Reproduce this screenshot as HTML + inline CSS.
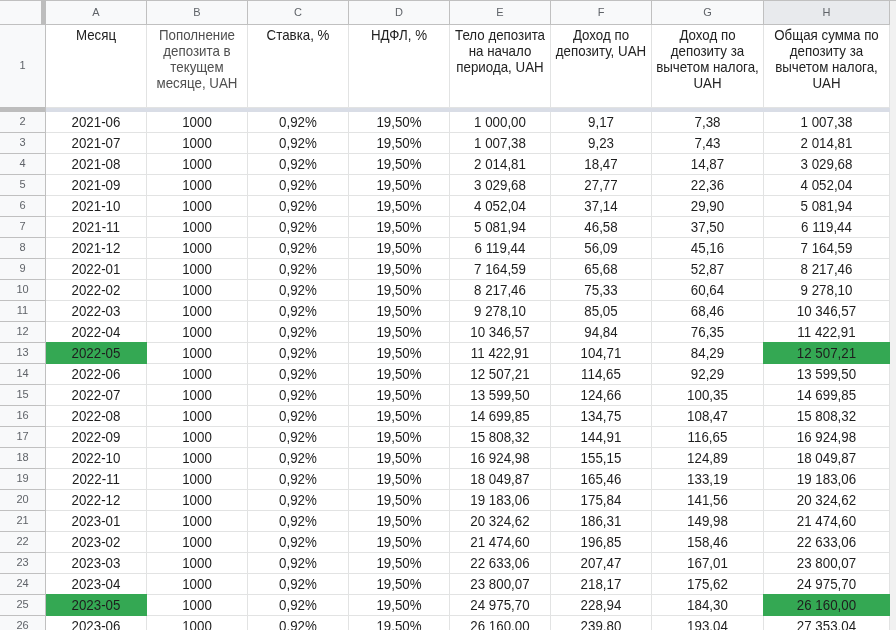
<!DOCTYPE html>
<html lang="ru"><head><meta charset="utf-8"><title>Депозит</title>
<style>
html,body{margin:0;padding:0;background:#fff;}
.t{will-change:transform;}
body{width:896px;height:630px;overflow:hidden;position:relative;font-family:"Liberation Sans",Arial,sans-serif;}
.r{position:absolute;}
.cl{position:absolute;top:1px;height:23px;line-height:23px;text-align:center;font-size:11px;color:#5f6368;}
.rn{position:absolute;left:0;width:45px;text-align:center;font-size:11px;color:#5f6368;}
.tx{position:absolute;height:16px;line-height:16px;text-align:center;font-size:13.333px;color:#1e1e1e;white-space:nowrap;transform:scaleY(1.05);transform-origin:50% 12px;}
</style></head><body>
<div class="r" style="left:0px;top:0px;width:896px;height:25px;background:#f8f9fa;"></div>
<div class="r" style="left:0px;top:25px;width:45px;height:605px;background:#f8f9fa;"></div>
<div class="r" style="left:764px;top:1px;width:125px;height:23px;background:#e8eaed;"></div>
<div class="r" style="left:890px;top:0px;width:6px;height:630px;background:#f1f1f1;"></div>
<div class="r" style="left:146px;top:25px;width:1px;height:605px;background:#e2e3e3;"></div>
<div class="r" style="left:247px;top:25px;width:1px;height:605px;background:#e2e3e3;"></div>
<div class="r" style="left:348px;top:25px;width:1px;height:605px;background:#e2e3e3;"></div>
<div class="r" style="left:449px;top:25px;width:1px;height:605px;background:#e2e3e3;"></div>
<div class="r" style="left:550px;top:25px;width:1px;height:605px;background:#e2e3e3;"></div>
<div class="r" style="left:651px;top:25px;width:1px;height:605px;background:#e2e3e3;"></div>
<div class="r" style="left:763px;top:25px;width:1px;height:605px;background:#e2e3e3;"></div>
<div class="r" style="left:889px;top:25px;width:1px;height:605px;background:#e2e3e3;"></div>
<div class="r" style="left:46px;top:107px;width:844px;height:1px;background:#e2e3e3;"></div>
<div class="r" style="left:46px;top:132px;width:844px;height:1px;background:#e2e3e3;"></div>
<div class="r" style="left:46px;top:153px;width:844px;height:1px;background:#e2e3e3;"></div>
<div class="r" style="left:46px;top:174px;width:844px;height:1px;background:#e2e3e3;"></div>
<div class="r" style="left:46px;top:195px;width:844px;height:1px;background:#e2e3e3;"></div>
<div class="r" style="left:46px;top:216px;width:844px;height:1px;background:#e2e3e3;"></div>
<div class="r" style="left:46px;top:237px;width:844px;height:1px;background:#e2e3e3;"></div>
<div class="r" style="left:46px;top:258px;width:844px;height:1px;background:#e2e3e3;"></div>
<div class="r" style="left:46px;top:279px;width:844px;height:1px;background:#e2e3e3;"></div>
<div class="r" style="left:46px;top:300px;width:844px;height:1px;background:#e2e3e3;"></div>
<div class="r" style="left:46px;top:321px;width:844px;height:1px;background:#e2e3e3;"></div>
<div class="r" style="left:46px;top:342px;width:844px;height:1px;background:#e2e3e3;"></div>
<div class="r" style="left:46px;top:363px;width:844px;height:1px;background:#e2e3e3;"></div>
<div class="r" style="left:46px;top:384px;width:844px;height:1px;background:#e2e3e3;"></div>
<div class="r" style="left:46px;top:405px;width:844px;height:1px;background:#e2e3e3;"></div>
<div class="r" style="left:46px;top:426px;width:844px;height:1px;background:#e2e3e3;"></div>
<div class="r" style="left:46px;top:447px;width:844px;height:1px;background:#e2e3e3;"></div>
<div class="r" style="left:46px;top:468px;width:844px;height:1px;background:#e2e3e3;"></div>
<div class="r" style="left:46px;top:489px;width:844px;height:1px;background:#e2e3e3;"></div>
<div class="r" style="left:46px;top:510px;width:844px;height:1px;background:#e2e3e3;"></div>
<div class="r" style="left:46px;top:531px;width:844px;height:1px;background:#e2e3e3;"></div>
<div class="r" style="left:46px;top:552px;width:844px;height:1px;background:#e2e3e3;"></div>
<div class="r" style="left:46px;top:573px;width:844px;height:1px;background:#e2e3e3;"></div>
<div class="r" style="left:46px;top:594px;width:844px;height:1px;background:#e2e3e3;"></div>
<div class="r" style="left:46px;top:615px;width:844px;height:1px;background:#e2e3e3;"></div>
<div class="r" style="left:46px;top:108px;width:844px;height:4px;background:#d9dde6;"></div>
<div class="r" style="left:0px;top:107px;width:45px;height:5px;background:#bdbdbd;"></div>
<div class="r" style="left:46px;top:342px;width:101px;height:22px;background:#34a853;"></div>
<div class="r" style="left:763px;top:342px;width:127px;height:22px;background:#34a853;"></div>
<div class="r" style="left:46px;top:594px;width:101px;height:22px;background:#34a853;"></div>
<div class="r" style="left:763px;top:594px;width:127px;height:22px;background:#34a853;"></div>
<div class="r" style="left:0px;top:0px;width:896px;height:1px;background:#c0c0c0;"></div>
<div class="r" style="left:0px;top:24px;width:890px;height:1px;background:#c0c0c0;"></div>
<div class="r" style="left:146px;top:0px;width:1px;height:25px;background:#c0c0c0;"></div>
<div class="r" style="left:247px;top:0px;width:1px;height:25px;background:#c0c0c0;"></div>
<div class="r" style="left:348px;top:0px;width:1px;height:25px;background:#c0c0c0;"></div>
<div class="r" style="left:449px;top:0px;width:1px;height:25px;background:#c0c0c0;"></div>
<div class="r" style="left:550px;top:0px;width:1px;height:25px;background:#c0c0c0;"></div>
<div class="r" style="left:651px;top:0px;width:1px;height:25px;background:#c0c0c0;"></div>
<div class="r" style="left:763px;top:0px;width:1px;height:25px;background:#c0c0c0;"></div>
<div class="r" style="left:889px;top:0px;width:1px;height:25px;background:#c0c0c0;"></div>
<div class="r" style="left:41px;top:0px;width:5px;height:25px;background:#bdbdbd;"></div>
<div class="r" style="left:45px;top:25px;width:1px;height:605px;background:#c0c0c0;"></div>
<div class="r" style="left:0px;top:132px;width:45px;height:1px;background:#c0c0c0;"></div>
<div class="r" style="left:0px;top:153px;width:45px;height:1px;background:#c0c0c0;"></div>
<div class="r" style="left:0px;top:174px;width:45px;height:1px;background:#c0c0c0;"></div>
<div class="r" style="left:0px;top:195px;width:45px;height:1px;background:#c0c0c0;"></div>
<div class="r" style="left:0px;top:216px;width:45px;height:1px;background:#c0c0c0;"></div>
<div class="r" style="left:0px;top:237px;width:45px;height:1px;background:#c0c0c0;"></div>
<div class="r" style="left:0px;top:258px;width:45px;height:1px;background:#c0c0c0;"></div>
<div class="r" style="left:0px;top:279px;width:45px;height:1px;background:#c0c0c0;"></div>
<div class="r" style="left:0px;top:300px;width:45px;height:1px;background:#c0c0c0;"></div>
<div class="r" style="left:0px;top:321px;width:45px;height:1px;background:#c0c0c0;"></div>
<div class="r" style="left:0px;top:342px;width:45px;height:1px;background:#c0c0c0;"></div>
<div class="r" style="left:0px;top:363px;width:45px;height:1px;background:#c0c0c0;"></div>
<div class="r" style="left:0px;top:384px;width:45px;height:1px;background:#c0c0c0;"></div>
<div class="r" style="left:0px;top:405px;width:45px;height:1px;background:#c0c0c0;"></div>
<div class="r" style="left:0px;top:426px;width:45px;height:1px;background:#c0c0c0;"></div>
<div class="r" style="left:0px;top:447px;width:45px;height:1px;background:#c0c0c0;"></div>
<div class="r" style="left:0px;top:468px;width:45px;height:1px;background:#c0c0c0;"></div>
<div class="r" style="left:0px;top:489px;width:45px;height:1px;background:#c0c0c0;"></div>
<div class="r" style="left:0px;top:510px;width:45px;height:1px;background:#c0c0c0;"></div>
<div class="r" style="left:0px;top:531px;width:45px;height:1px;background:#c0c0c0;"></div>
<div class="r" style="left:0px;top:552px;width:45px;height:1px;background:#c0c0c0;"></div>
<div class="r" style="left:0px;top:573px;width:45px;height:1px;background:#c0c0c0;"></div>
<div class="r" style="left:0px;top:594px;width:45px;height:1px;background:#c0c0c0;"></div>
<div class="r" style="left:0px;top:615px;width:45px;height:1px;background:#c0c0c0;"></div>
<div class="t" style="position:absolute;left:0;top:0;width:896px;height:630px;">
<div class="cl" style="left:46px;width:100px;">A</div>
<div class="cl" style="left:147px;width:100px;">B</div>
<div class="cl" style="left:248px;width:100px;">C</div>
<div class="cl" style="left:349px;width:100px;">D</div>
<div class="cl" style="left:450px;width:100px;">E</div>
<div class="cl" style="left:551px;width:100px;">F</div>
<div class="cl" style="left:652px;width:111px;">G</div>
<div class="cl" style="left:764px;width:125px;">H</div>
<div class="rn" style="top:24px;height:82px;line-height:82px;">1</div>
<div class="rn" style="top:111px;height:20px;line-height:20px;">2</div>
<div class="rn" style="top:132px;height:20px;line-height:20px;">3</div>
<div class="rn" style="top:153px;height:20px;line-height:20px;">4</div>
<div class="rn" style="top:174px;height:20px;line-height:20px;">5</div>
<div class="rn" style="top:195px;height:20px;line-height:20px;">6</div>
<div class="rn" style="top:216px;height:20px;line-height:20px;">7</div>
<div class="rn" style="top:237px;height:20px;line-height:20px;">8</div>
<div class="rn" style="top:258px;height:20px;line-height:20px;">9</div>
<div class="rn" style="top:279px;height:20px;line-height:20px;">10</div>
<div class="rn" style="top:300px;height:20px;line-height:20px;">11</div>
<div class="rn" style="top:321px;height:20px;line-height:20px;">12</div>
<div class="rn" style="top:342px;height:20px;line-height:20px;">13</div>
<div class="rn" style="top:363px;height:20px;line-height:20px;">14</div>
<div class="rn" style="top:384px;height:20px;line-height:20px;">15</div>
<div class="rn" style="top:405px;height:20px;line-height:20px;">16</div>
<div class="rn" style="top:426px;height:20px;line-height:20px;">17</div>
<div class="rn" style="top:447px;height:20px;line-height:20px;">18</div>
<div class="rn" style="top:468px;height:20px;line-height:20px;">19</div>
<div class="rn" style="top:489px;height:20px;line-height:20px;">20</div>
<div class="rn" style="top:510px;height:20px;line-height:20px;">21</div>
<div class="rn" style="top:531px;height:20px;line-height:20px;">22</div>
<div class="rn" style="top:552px;height:20px;line-height:20px;">23</div>
<div class="rn" style="top:573px;height:20px;line-height:20px;">24</div>
<div class="rn" style="top:594px;height:20px;line-height:20px;">25</div>
<div class="rn" style="top:615px;height:20px;line-height:20px;">26</div>
<div class="tx" style="left:46px;top:28px;width:100px;color:#222;">Месяц</div>
<div class="tx" style="left:147px;top:28px;width:100px;color:#4f4f4f;">Пополнение</div>
<div class="tx" style="left:147px;top:44px;width:100px;color:#4f4f4f;">депозита в</div>
<div class="tx" style="left:147px;top:60px;width:100px;color:#4f4f4f;">текущем</div>
<div class="tx" style="left:147px;top:76px;width:100px;color:#4f4f4f;">месяце, UAH</div>
<div class="tx" style="left:248px;top:28px;width:100px;color:#222;">Ставка, %</div>
<div class="tx" style="left:349px;top:28px;width:100px;color:#222;">НДФЛ, %</div>
<div class="tx" style="left:450px;top:28px;width:100px;color:#222;">Тело депозита</div>
<div class="tx" style="left:450px;top:44px;width:100px;color:#222;">на начало</div>
<div class="tx" style="left:450px;top:60px;width:100px;color:#222;">периода, UAH</div>
<div class="tx" style="left:551px;top:28px;width:100px;color:#222;">Доход по</div>
<div class="tx" style="left:551px;top:44px;width:100px;color:#222;">депозиту, UAH</div>
<div class="tx" style="left:652px;top:28px;width:111px;color:#222;">Доход по</div>
<div class="tx" style="left:652px;top:44px;width:111px;color:#222;">депозиту за</div>
<div class="tx" style="left:652px;top:60px;width:111px;color:#222;">вычетом налога,</div>
<div class="tx" style="left:652px;top:76px;width:111px;color:#222;">UAH</div>
<div class="tx" style="left:764px;top:28px;width:125px;color:#222;">Общая сумма по</div>
<div class="tx" style="left:764px;top:44px;width:125px;color:#222;">депозиту за</div>
<div class="tx" style="left:764px;top:60px;width:125px;color:#222;">вычетом налога,</div>
<div class="tx" style="left:764px;top:76px;width:125px;color:#222;">UAH</div>
<div class="tx" style="left:46px;top:115px;width:100px;">2021-06</div>
<div class="tx" style="left:147px;top:115px;width:100px;">1000</div>
<div class="tx" style="left:248px;top:115px;width:100px;">0,92%</div>
<div class="tx" style="left:349px;top:115px;width:100px;">19,50%</div>
<div class="tx" style="left:450px;top:115px;width:100px;">1 000,00</div>
<div class="tx" style="left:551px;top:115px;width:100px;">9,17</div>
<div class="tx" style="left:652px;top:115px;width:111px;">7,38</div>
<div class="tx" style="left:764px;top:115px;width:125px;">1 007,38</div>
<div class="tx" style="left:46px;top:136px;width:100px;">2021-07</div>
<div class="tx" style="left:147px;top:136px;width:100px;">1000</div>
<div class="tx" style="left:248px;top:136px;width:100px;">0,92%</div>
<div class="tx" style="left:349px;top:136px;width:100px;">19,50%</div>
<div class="tx" style="left:450px;top:136px;width:100px;">1 007,38</div>
<div class="tx" style="left:551px;top:136px;width:100px;">9,23</div>
<div class="tx" style="left:652px;top:136px;width:111px;">7,43</div>
<div class="tx" style="left:764px;top:136px;width:125px;">2 014,81</div>
<div class="tx" style="left:46px;top:157px;width:100px;">2021-08</div>
<div class="tx" style="left:147px;top:157px;width:100px;">1000</div>
<div class="tx" style="left:248px;top:157px;width:100px;">0,92%</div>
<div class="tx" style="left:349px;top:157px;width:100px;">19,50%</div>
<div class="tx" style="left:450px;top:157px;width:100px;">2 014,81</div>
<div class="tx" style="left:551px;top:157px;width:100px;">18,47</div>
<div class="tx" style="left:652px;top:157px;width:111px;">14,87</div>
<div class="tx" style="left:764px;top:157px;width:125px;">3 029,68</div>
<div class="tx" style="left:46px;top:178px;width:100px;">2021-09</div>
<div class="tx" style="left:147px;top:178px;width:100px;">1000</div>
<div class="tx" style="left:248px;top:178px;width:100px;">0,92%</div>
<div class="tx" style="left:349px;top:178px;width:100px;">19,50%</div>
<div class="tx" style="left:450px;top:178px;width:100px;">3 029,68</div>
<div class="tx" style="left:551px;top:178px;width:100px;">27,77</div>
<div class="tx" style="left:652px;top:178px;width:111px;">22,36</div>
<div class="tx" style="left:764px;top:178px;width:125px;">4 052,04</div>
<div class="tx" style="left:46px;top:199px;width:100px;">2021-10</div>
<div class="tx" style="left:147px;top:199px;width:100px;">1000</div>
<div class="tx" style="left:248px;top:199px;width:100px;">0,92%</div>
<div class="tx" style="left:349px;top:199px;width:100px;">19,50%</div>
<div class="tx" style="left:450px;top:199px;width:100px;">4 052,04</div>
<div class="tx" style="left:551px;top:199px;width:100px;">37,14</div>
<div class="tx" style="left:652px;top:199px;width:111px;">29,90</div>
<div class="tx" style="left:764px;top:199px;width:125px;">5 081,94</div>
<div class="tx" style="left:46px;top:220px;width:100px;">2021-11</div>
<div class="tx" style="left:147px;top:220px;width:100px;">1000</div>
<div class="tx" style="left:248px;top:220px;width:100px;">0,92%</div>
<div class="tx" style="left:349px;top:220px;width:100px;">19,50%</div>
<div class="tx" style="left:450px;top:220px;width:100px;">5 081,94</div>
<div class="tx" style="left:551px;top:220px;width:100px;">46,58</div>
<div class="tx" style="left:652px;top:220px;width:111px;">37,50</div>
<div class="tx" style="left:764px;top:220px;width:125px;">6 119,44</div>
<div class="tx" style="left:46px;top:241px;width:100px;">2021-12</div>
<div class="tx" style="left:147px;top:241px;width:100px;">1000</div>
<div class="tx" style="left:248px;top:241px;width:100px;">0,92%</div>
<div class="tx" style="left:349px;top:241px;width:100px;">19,50%</div>
<div class="tx" style="left:450px;top:241px;width:100px;">6 119,44</div>
<div class="tx" style="left:551px;top:241px;width:100px;">56,09</div>
<div class="tx" style="left:652px;top:241px;width:111px;">45,16</div>
<div class="tx" style="left:764px;top:241px;width:125px;">7 164,59</div>
<div class="tx" style="left:46px;top:262px;width:100px;">2022-01</div>
<div class="tx" style="left:147px;top:262px;width:100px;">1000</div>
<div class="tx" style="left:248px;top:262px;width:100px;">0,92%</div>
<div class="tx" style="left:349px;top:262px;width:100px;">19,50%</div>
<div class="tx" style="left:450px;top:262px;width:100px;">7 164,59</div>
<div class="tx" style="left:551px;top:262px;width:100px;">65,68</div>
<div class="tx" style="left:652px;top:262px;width:111px;">52,87</div>
<div class="tx" style="left:764px;top:262px;width:125px;">8 217,46</div>
<div class="tx" style="left:46px;top:283px;width:100px;">2022-02</div>
<div class="tx" style="left:147px;top:283px;width:100px;">1000</div>
<div class="tx" style="left:248px;top:283px;width:100px;">0,92%</div>
<div class="tx" style="left:349px;top:283px;width:100px;">19,50%</div>
<div class="tx" style="left:450px;top:283px;width:100px;">8 217,46</div>
<div class="tx" style="left:551px;top:283px;width:100px;">75,33</div>
<div class="tx" style="left:652px;top:283px;width:111px;">60,64</div>
<div class="tx" style="left:764px;top:283px;width:125px;">9 278,10</div>
<div class="tx" style="left:46px;top:304px;width:100px;">2022-03</div>
<div class="tx" style="left:147px;top:304px;width:100px;">1000</div>
<div class="tx" style="left:248px;top:304px;width:100px;">0,92%</div>
<div class="tx" style="left:349px;top:304px;width:100px;">19,50%</div>
<div class="tx" style="left:450px;top:304px;width:100px;">9 278,10</div>
<div class="tx" style="left:551px;top:304px;width:100px;">85,05</div>
<div class="tx" style="left:652px;top:304px;width:111px;">68,46</div>
<div class="tx" style="left:764px;top:304px;width:125px;">10 346,57</div>
<div class="tx" style="left:46px;top:325px;width:100px;">2022-04</div>
<div class="tx" style="left:147px;top:325px;width:100px;">1000</div>
<div class="tx" style="left:248px;top:325px;width:100px;">0,92%</div>
<div class="tx" style="left:349px;top:325px;width:100px;">19,50%</div>
<div class="tx" style="left:450px;top:325px;width:100px;">10 346,57</div>
<div class="tx" style="left:551px;top:325px;width:100px;">94,84</div>
<div class="tx" style="left:652px;top:325px;width:111px;">76,35</div>
<div class="tx" style="left:764px;top:325px;width:125px;">11 422,91</div>
<div class="tx" style="left:46px;top:346px;width:100px;">2022-05</div>
<div class="tx" style="left:147px;top:346px;width:100px;">1000</div>
<div class="tx" style="left:248px;top:346px;width:100px;">0,92%</div>
<div class="tx" style="left:349px;top:346px;width:100px;">19,50%</div>
<div class="tx" style="left:450px;top:346px;width:100px;">11 422,91</div>
<div class="tx" style="left:551px;top:346px;width:100px;">104,71</div>
<div class="tx" style="left:652px;top:346px;width:111px;">84,29</div>
<div class="tx" style="left:764px;top:346px;width:125px;">12 507,21</div>
<div class="tx" style="left:46px;top:367px;width:100px;">2022-06</div>
<div class="tx" style="left:147px;top:367px;width:100px;">1000</div>
<div class="tx" style="left:248px;top:367px;width:100px;">0,92%</div>
<div class="tx" style="left:349px;top:367px;width:100px;">19,50%</div>
<div class="tx" style="left:450px;top:367px;width:100px;">12 507,21</div>
<div class="tx" style="left:551px;top:367px;width:100px;">114,65</div>
<div class="tx" style="left:652px;top:367px;width:111px;">92,29</div>
<div class="tx" style="left:764px;top:367px;width:125px;">13 599,50</div>
<div class="tx" style="left:46px;top:388px;width:100px;">2022-07</div>
<div class="tx" style="left:147px;top:388px;width:100px;">1000</div>
<div class="tx" style="left:248px;top:388px;width:100px;">0,92%</div>
<div class="tx" style="left:349px;top:388px;width:100px;">19,50%</div>
<div class="tx" style="left:450px;top:388px;width:100px;">13 599,50</div>
<div class="tx" style="left:551px;top:388px;width:100px;">124,66</div>
<div class="tx" style="left:652px;top:388px;width:111px;">100,35</div>
<div class="tx" style="left:764px;top:388px;width:125px;">14 699,85</div>
<div class="tx" style="left:46px;top:409px;width:100px;">2022-08</div>
<div class="tx" style="left:147px;top:409px;width:100px;">1000</div>
<div class="tx" style="left:248px;top:409px;width:100px;">0,92%</div>
<div class="tx" style="left:349px;top:409px;width:100px;">19,50%</div>
<div class="tx" style="left:450px;top:409px;width:100px;">14 699,85</div>
<div class="tx" style="left:551px;top:409px;width:100px;">134,75</div>
<div class="tx" style="left:652px;top:409px;width:111px;">108,47</div>
<div class="tx" style="left:764px;top:409px;width:125px;">15 808,32</div>
<div class="tx" style="left:46px;top:430px;width:100px;">2022-09</div>
<div class="tx" style="left:147px;top:430px;width:100px;">1000</div>
<div class="tx" style="left:248px;top:430px;width:100px;">0,92%</div>
<div class="tx" style="left:349px;top:430px;width:100px;">19,50%</div>
<div class="tx" style="left:450px;top:430px;width:100px;">15 808,32</div>
<div class="tx" style="left:551px;top:430px;width:100px;">144,91</div>
<div class="tx" style="left:652px;top:430px;width:111px;">116,65</div>
<div class="tx" style="left:764px;top:430px;width:125px;">16 924,98</div>
<div class="tx" style="left:46px;top:451px;width:100px;">2022-10</div>
<div class="tx" style="left:147px;top:451px;width:100px;">1000</div>
<div class="tx" style="left:248px;top:451px;width:100px;">0,92%</div>
<div class="tx" style="left:349px;top:451px;width:100px;">19,50%</div>
<div class="tx" style="left:450px;top:451px;width:100px;">16 924,98</div>
<div class="tx" style="left:551px;top:451px;width:100px;">155,15</div>
<div class="tx" style="left:652px;top:451px;width:111px;">124,89</div>
<div class="tx" style="left:764px;top:451px;width:125px;">18 049,87</div>
<div class="tx" style="left:46px;top:472px;width:100px;">2022-11</div>
<div class="tx" style="left:147px;top:472px;width:100px;">1000</div>
<div class="tx" style="left:248px;top:472px;width:100px;">0,92%</div>
<div class="tx" style="left:349px;top:472px;width:100px;">19,50%</div>
<div class="tx" style="left:450px;top:472px;width:100px;">18 049,87</div>
<div class="tx" style="left:551px;top:472px;width:100px;">165,46</div>
<div class="tx" style="left:652px;top:472px;width:111px;">133,19</div>
<div class="tx" style="left:764px;top:472px;width:125px;">19 183,06</div>
<div class="tx" style="left:46px;top:493px;width:100px;">2022-12</div>
<div class="tx" style="left:147px;top:493px;width:100px;">1000</div>
<div class="tx" style="left:248px;top:493px;width:100px;">0,92%</div>
<div class="tx" style="left:349px;top:493px;width:100px;">19,50%</div>
<div class="tx" style="left:450px;top:493px;width:100px;">19 183,06</div>
<div class="tx" style="left:551px;top:493px;width:100px;">175,84</div>
<div class="tx" style="left:652px;top:493px;width:111px;">141,56</div>
<div class="tx" style="left:764px;top:493px;width:125px;">20 324,62</div>
<div class="tx" style="left:46px;top:514px;width:100px;">2023-01</div>
<div class="tx" style="left:147px;top:514px;width:100px;">1000</div>
<div class="tx" style="left:248px;top:514px;width:100px;">0,92%</div>
<div class="tx" style="left:349px;top:514px;width:100px;">19,50%</div>
<div class="tx" style="left:450px;top:514px;width:100px;">20 324,62</div>
<div class="tx" style="left:551px;top:514px;width:100px;">186,31</div>
<div class="tx" style="left:652px;top:514px;width:111px;">149,98</div>
<div class="tx" style="left:764px;top:514px;width:125px;">21 474,60</div>
<div class="tx" style="left:46px;top:535px;width:100px;">2023-02</div>
<div class="tx" style="left:147px;top:535px;width:100px;">1000</div>
<div class="tx" style="left:248px;top:535px;width:100px;">0,92%</div>
<div class="tx" style="left:349px;top:535px;width:100px;">19,50%</div>
<div class="tx" style="left:450px;top:535px;width:100px;">21 474,60</div>
<div class="tx" style="left:551px;top:535px;width:100px;">196,85</div>
<div class="tx" style="left:652px;top:535px;width:111px;">158,46</div>
<div class="tx" style="left:764px;top:535px;width:125px;">22 633,06</div>
<div class="tx" style="left:46px;top:556px;width:100px;">2023-03</div>
<div class="tx" style="left:147px;top:556px;width:100px;">1000</div>
<div class="tx" style="left:248px;top:556px;width:100px;">0,92%</div>
<div class="tx" style="left:349px;top:556px;width:100px;">19,50%</div>
<div class="tx" style="left:450px;top:556px;width:100px;">22 633,06</div>
<div class="tx" style="left:551px;top:556px;width:100px;">207,47</div>
<div class="tx" style="left:652px;top:556px;width:111px;">167,01</div>
<div class="tx" style="left:764px;top:556px;width:125px;">23 800,07</div>
<div class="tx" style="left:46px;top:577px;width:100px;">2023-04</div>
<div class="tx" style="left:147px;top:577px;width:100px;">1000</div>
<div class="tx" style="left:248px;top:577px;width:100px;">0,92%</div>
<div class="tx" style="left:349px;top:577px;width:100px;">19,50%</div>
<div class="tx" style="left:450px;top:577px;width:100px;">23 800,07</div>
<div class="tx" style="left:551px;top:577px;width:100px;">218,17</div>
<div class="tx" style="left:652px;top:577px;width:111px;">175,62</div>
<div class="tx" style="left:764px;top:577px;width:125px;">24 975,70</div>
<div class="tx" style="left:46px;top:598px;width:100px;">2023-05</div>
<div class="tx" style="left:147px;top:598px;width:100px;">1000</div>
<div class="tx" style="left:248px;top:598px;width:100px;">0,92%</div>
<div class="tx" style="left:349px;top:598px;width:100px;">19,50%</div>
<div class="tx" style="left:450px;top:598px;width:100px;">24 975,70</div>
<div class="tx" style="left:551px;top:598px;width:100px;">228,94</div>
<div class="tx" style="left:652px;top:598px;width:111px;">184,30</div>
<div class="tx" style="left:764px;top:598px;width:125px;">26 160,00</div>
<div class="tx" style="left:46px;top:619px;width:100px;">2023-06</div>
<div class="tx" style="left:147px;top:619px;width:100px;">1000</div>
<div class="tx" style="left:248px;top:619px;width:100px;">0,92%</div>
<div class="tx" style="left:349px;top:619px;width:100px;">19,50%</div>
<div class="tx" style="left:450px;top:619px;width:100px;">26 160,00</div>
<div class="tx" style="left:551px;top:619px;width:100px;">239,80</div>
<div class="tx" style="left:652px;top:619px;width:111px;">193,04</div>
<div class="tx" style="left:764px;top:619px;width:125px;">27 353,04</div>
</div>
</body></html>
